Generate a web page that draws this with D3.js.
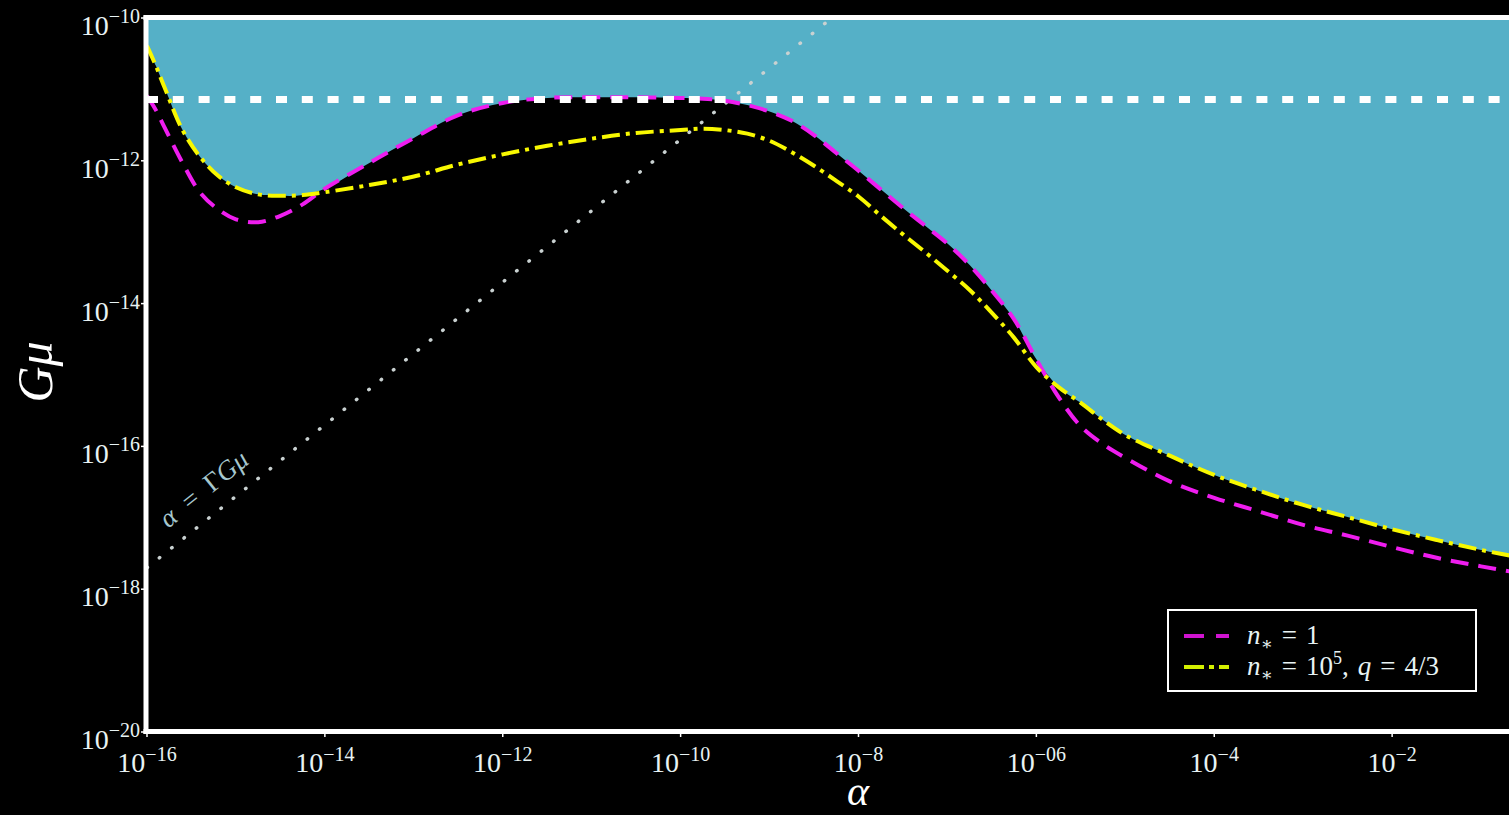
<!DOCTYPE html>
<html>
<head>
<meta charset="utf-8">
<script src="https://cdn.jsdelivr.net/npm/d3@7"></script>
<style>
  html, body { margin: 0; padding: 0; background: #000; overflow: hidden; }
  svg { display: block; }
</style>
</head>
<body>
<div id="chart"></div>
<script>
// log10(alpha) where both curves were read
const alphaExp = [-16, -15.9, -15.8, -15.6, -15.4, -15.2, -15, -14.75, -14.5, -14.25, -14,
  -13.5, -13, -12.5, -12, -11.5, -11, -10.5, -10, -9.75, -9.5, -9.25, -9, -8.75, -8.5,
  -8.25, -8, -7.75, -7.5, -7.25, -7, -6.75, -6.5, -6.25, -6, -5.75, -5.5, -5.25, -5,
  -4.5, -4, -3.5, -3, -2.5, -2, -1.5, -1, -0.5];

// log10(Gmu), n* = 1 (magenta, dashed)
const magentaExp = [-11.09, -11.29, -11.54, -12.03, -12.45, -12.68, -12.82, -12.86, -12.77, -12.61, -12.39,
  -12.03, -11.68, -11.36, -11.19, -11.12, -11.11, -11.11, -11.12, -11.13, -11.16, -11.22, -11.31, -11.44, -11.64,
  -11.89, -12.14, -12.40, -12.66, -12.91, -13.16, -13.46, -13.82, -14.22, -14.78, -15.31, -15.72, -15.97, -16.16,
  -16.49, -16.72, -16.91, -17.10, -17.25, -17.41, -17.56, -17.68, -17.79];

// log10(Gmu), n* = 1e5, q = 4/3 (yellow, dash-dot)
const yellowExp = [-10.39, -10.67, -10.98, -11.57, -11.95, -12.21, -12.37, -12.47, -12.49, -12.48, -12.44,
  -12.34, -12.22, -12.05, -11.91, -11.79, -11.69, -11.61, -11.57, -11.55, -11.57, -11.62, -11.72, -11.88, -12.07,
  -12.28, -12.50, -12.77, -13.03, -13.28, -13.54, -13.81, -14.13, -14.48, -14.89, -15.17, -15.39, -15.63, -15.84,
  -16.13, -16.40, -16.62, -16.82, -16.99, -17.16, -17.31, -17.45, -17.57];

const GAMMA = 50;          // alpha = Gamma * Gmu
const gmuBound = 7.2e-12;  // white dashed bound
const gammaAlpha = [1e-16, 1e-7];

const xTickExp = [-16, -14, -12, -10, -8, -6, -4, -2];
const xTickSup = ["\u221216", "\u221214", "\u221212", "\u221210", "\u22128", "\u221206", "\u22124", "\u22122"];
const yTickExp = [-10, -12, -14, -16, -18, -20];
const yTickSup = ["\u221210", "\u221212", "\u221214", "\u221216", "\u221218", "\u221220"];

const W = 1509, H = 815;
const serif = "'Liberation Serif', 'DejaVu Serif', serif";
const txtCol = "#e8f3f4";

const x = d3.scaleLog().domain([1e-16, 1]).range([147, 1570]);
const y = d3.scaleLog().domain([1e-10, 1e-20]).range([18, 732]);

const svg = d3.select("#chart").append("svg")
  .attr("width", W).attr("height", H)
  .style("background", "#000");

svg.append("defs").append("clipPath").attr("id", "plot")
  .append("rect").attr("x", 147).attr("y", 18).attr("width", 1570 - 147).attr("height", 732 - 18);

const magPts = alphaExp.map((e, i) => [10 ** e, 10 ** magentaExp[i]]);
const yelPts = alphaExp.map((e, i) => [10 ** e, 10 ** yellowExp[i]]);
const envPts = alphaExp.map((e, i) => [10 ** e, 10 ** Math.max(magentaExp[i], yellowExp[i])]);

const smooth = d3.curveCatmullRom.alpha(0.5);
const plot = svg.append("g").attr("clip-path", "url(#plot)");

// excluded region (cyan) above the envelope
plot.append("path")
  .datum(envPts)
  .attr("fill", "#55b0c7")
  .attr("d", d3.area()
    .x(d => x(d[0]))
    .y0(0)
    .y1(d => y(d[1]))
    .curve(smooth));

// alpha = Gamma G mu
plot.append("path")
  .datum(gammaAlpha.map(a => [a, a / GAMMA]))
  .attr("fill", "none")
  .attr("stroke", "#c9d1d1")
  .attr("stroke-width", 3.5)
  .attr("stroke-linecap", "round")
  .attr("stroke-dasharray", "0.5,15.3")
  .attr("d", d3.line().x(d => x(d[0])).y(d => y(d[1])));

const line = d3.line().x(d => x(d[0])).y(d => y(d[1])).curve(smooth);

plot.append("path")
  .datum(magPts)
  .attr("fill", "none")
  .attr("stroke", "#ef1def")
  .attr("stroke-width", 4)
  .attr("stroke-dasharray", "18,10")
  .attr("d", line);

plot.append("path")
  .datum(yelPts)
  .attr("fill", "none")
  .attr("stroke", "#f8f800")
  .attr("stroke-width", 4)
  .attr("stroke-dasharray", "18,6,4,6")
  .attr("d", line);

// white dashed bound
plot.append("line")
  .attr("x1", x(1e-16)).attr("x2", W + 60)
  .attr("y1", y(gmuBound)).attr("y2", y(gmuBound))
  .attr("stroke", "#fff")
  .attr("stroke-width", 7)
  .attr("stroke-dasharray", "11,14.8");

// label along the dotted line
const lp = [x(10 ** -15.3), y(10 ** -15.3 / GAMMA) - 22];
svg.append("text")
  .attr("transform", `translate(${lp[0]},${lp[1]}) rotate(-38.8)`)
  .attr("text-anchor", "middle")
  .attr("font-family", serif)
  .attr("font-size", 27)
  .attr("fill", "#a6c7ce")
  .call(t => {
    t.append("tspan").attr("font-style", "italic").text("\u03b1");
    t.append("tspan").text("\u2002=\u2002\u0393");
    t.append("tspan").attr("font-style", "italic").text("G\u03bc");
  });

// spines
const frame = svg.append("g").attr("stroke", "#fff").attr("stroke-width", 5);
frame.append("line").attr("x1", 146).attr("x2", 146).attr("y1", 15.5).attr("y2", 734);
frame.append("line").attr("x1", 143.5).attr("x2", W + 10).attr("y1", 17.5).attr("y2", 17.5);
frame.append("line").attr("x1", 143.5).attr("x2", W + 10).attr("y1", 731.5).attr("y2", 731.5);

// x ticks
const xt = svg.append("g");
xTickExp.forEach((e, i) => {
  const px = x(10 ** e);
  xt.append("line").attr("x1", px).attr("x2", px).attr("y1", 734).attr("y2", 737)
    .attr("stroke", "#fff").attr("stroke-width", 1.5);
  const t = xt.append("text")
    .attr("x", px).attr("y", 772)
    .attr("text-anchor", "middle")
    .attr("font-family", serif).attr("font-size", 28).attr("fill", txtCol);
  t.append("tspan").text("10");
  t.append("tspan").attr("dy", -11).attr("font-size", 20).text(xTickSup[i]);
});

// y ticks
const yt = svg.append("g");
yTickExp.forEach((e, i) => {
  const py = y(10 ** e);
  yt.append("line").attr("x1", 141).attr("x2", 144).attr("y1", py).attr("y2", py)
    .attr("stroke", "#fff").attr("stroke-width", 1.5);
  const t = yt.append("text")
    .attr("x", 140).attr("y", py + 17)
    .attr("text-anchor", "end")
    .attr("font-family", serif).attr("font-size", 28).attr("fill", txtCol);
  t.append("tspan").text("10");
  t.append("tspan").attr("dy", -12).attr("font-size", 20).text(yTickSup[i]);
});

// axis titles
svg.append("text")
  .attr("x", 858).attr("y", 805)
  .attr("text-anchor", "middle")
  .attr("font-family", serif).attr("font-style", "italic")
  .attr("font-size", 42).attr("fill", "#fff")
  .text("\u03b1");

svg.append("text")
  .attr("transform", "translate(52,372) rotate(-90)")
  .attr("text-anchor", "middle")
  .attr("font-family", serif).attr("font-style", "italic")
  .attr("font-size", 50).attr("fill", "#fff")
  .text("G\u03bc");

// legend
const lg = svg.append("g");
lg.append("rect")
  .attr("x", 1168).attr("y", 610).attr("width", 308).attr("height", 81)
  .attr("fill", "#000").attr("stroke", "#fff").attr("stroke-width", 2);

const legendItems = [
  { col: "#d014d0", dash: "20,12", parts: [["n", "i"], ["\u2217", "sub"], ["\u2004=\u20041", ""]] },
  { col: "#d4f000", dash: "20,5,5,5", parts: [["n", "i"], ["\u2217", "sub"], ["\u2004=\u200410", ""], ["5", "sup"], [",\u2004", ""], ["q", "i"], ["\u2004=\u20044/3", ""]] }
];
legendItems.forEach((it, i) => {
  const cy = 636 + i * 31;
  lg.append("line")
    .attr("x1", 1184).attr("x2", 1229).attr("y1", cy).attr("y2", cy)
    .attr("stroke", it.col).attr("stroke-width", 4).attr("stroke-dasharray", it.dash);
  const t = lg.append("text")
    .attr("x", 1247).attr("y", cy + 8)
    .attr("font-family", serif).attr("font-size", 27).attr("fill", txtCol);
  let shift = 0;
  it.parts.forEach(([s, k]) => {
    const sp = t.append("tspan").text(s);
    if (k === "i") sp.attr("font-style", "italic");
    if (k === "sub") { sp.attr("dy", 6 - shift).attr("font-size", 18); shift = 6; }
    else if (k === "sup") { sp.attr("dy", -11 - shift).attr("font-size", 18); shift = -11; }
    else if (shift !== 0) { sp.attr("dy", -shift); shift = 0; }
  });
});
</script>
</body>
</html>
